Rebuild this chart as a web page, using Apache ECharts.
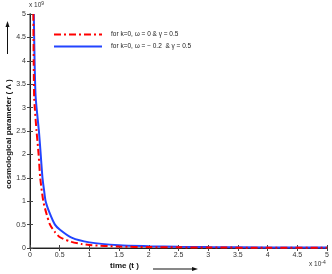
<!DOCTYPE html>
<html>
<head>
<meta charset="utf-8">
<script src="https://cdn.jsdelivr.net/npm/echarts@6/dist/echarts.min.js"></script>
<style>html,body{margin:0;padding:0;background:#fff}#c{width:332px;height:274px}</style>
</head>
<body>
<div id="c"></div>
<script>
var xTicks = [0, 0.5, 1, 1.5, 2, 2.5, 3, 3.5, 4, 4.5, 5];
var yTicks = [0, 0.5, 1, 1.5, 2, 2.5, 3, 3.5, 4, 4.5, 5];
var seriesNames = ['for k=0, \u03c9 = 0 & \u03b3 = 0.5', 'for k=0, \u03c9 = \u2212 0.2  & \u03b3 = 0.5'];
// time (x 10^-4), cosmological parameter (x 10^9)
var redT = [0.056, 0.062, 0.07, 0.08, 0.11, 0.145, 0.172, 0.224, 0.28, 0.337, 0.42, 0.505, 0.7, 0.87, 1.0, 1.5, 2.0, 2.5, 3.0, 4.0, 5.0];
var redV = [5.0, 4.0, 3.2, 3.0, 2.5, 2.0, 1.5, 1.0, 0.72, 0.5, 0.34, 0.23, 0.13, 0.085, 0.064, 0.03, 0.02, 0.014, 0.01, 0.006, 0.004];
var blueT = [0.064, 0.077, 0.092, 0.11, 0.15, 0.18, 0.21, 0.236, 0.263, 0.33, 0.42, 0.505, 0.7, 1.0, 1.5, 2.0, 2.5, 3.0, 4.0, 5.0];
var blueV = [5.0, 4.0, 3.3, 3.0, 2.5, 2.0, 1.5, 1.24, 1.0, 0.75, 0.5, 0.39, 0.22, 0.12, 0.06, 0.04, 0.027, 0.02, 0.013, 0.01];

function pairs(a, b) { return a.map(function (v, i) { return [v, b[i]]; }); }
var font = 'Liberation Sans, Arial, sans-serif';
var chart = echarts.init(document.getElementById('c'), null, { renderer: 'canvas' });
var lab = { fontSize: 7, color: '#333', fontFamily: font };
chart.setOption({
  animation: false,
  grid: { left: 30, right: 5, top: 14, bottom: 26 },
  legend: {
    orient: 'vertical', left: 48, top: 26, itemWidth: 48, itemHeight: 8, itemGap: 5,
    data: seriesNames,
    itemStyle: { opacity: 0 },
    textStyle: { fontSize: 6.5, color: '#222', fontFamily: font, padding: [0, 0, 0, 4] }
  },
  xAxis: [{
    type: 'value', min: 0, max: 5, interval: 0.5,
    axisLine: { show: true, lineStyle: { color: '#777', width: 1.5 } },
    axisTick: { inside: true, length: 3, lineStyle: { color: '#444' } },
    axisLabel: Object.assign({ margin: 4, formatter: function (v) { return xTicks.indexOf(v) >= 0 ? String(v) : ''; } }, lab),
    splitLine: { show: false }
  }, {
    type: 'value', min: 0, max: 5, interval: 0.5, position: 'top',
    axisLine: { show: true, lineStyle: { color: '#222', width: 1 } },
    axisTick: { inside: true, length: 3, lineStyle: { color: '#444' } },
    axisLabel: { show: false }, splitLine: { show: false }
  }],
  yAxis: [{
    type: 'value', min: 0, max: 5, interval: 0.5,
    axisLine: { show: true, lineStyle: { color: '#777', width: 1.5 } },
    axisTick: { inside: true, length: 3, lineStyle: { color: '#444' } },
    axisLabel: Object.assign({ margin: 4, formatter: function (v) { return yTicks.indexOf(v) >= 0 ? String(v) : ''; } }, lab),
    splitLine: { show: false }
  }, {
    type: 'value', min: 0, max: 5, interval: 0.5, position: 'right',
    axisLine: { show: true, lineStyle: { color: '#222', width: 1 } },
    axisTick: { inside: true, length: 3, lineStyle: { color: '#444' } },
    axisLabel: { show: false }, splitLine: { show: false }
  }],
  series: [{
    name: seriesNames[0], type: 'line', symbol: 'none', smooth: 0.25, clip: true,
    data: pairs(redT, redV),
    lineStyle: { color: '#ff0000', width: 2, type: [7, 3, 2, 3] },
    itemStyle: { color: '#ff0000' }, z: 3
  }, {
    name: seriesNames[1], type: 'line', symbol: 'none', smooth: 0.25, clip: true,
    data: pairs(blueT, blueV),
    lineStyle: { color: '#2244ff', width: 2 },
    itemStyle: { color: '#2244ff' }, z: 2
  }],
  graphic: [
    { type: 'text', left: 29, top: 1, style: { text: 'x 10{s|9}', fontSize: 6.5, fill: '#333', fontFamily: font, rich: { s: { fontSize: 5, verticalAlign: 'top', padding: [0, 0, 4, 0] } } } },
    { type: 'text', left: 309, top: 260, style: { text: 'x 10{s|-4}', fontSize: 6.5, fill: '#333', fontFamily: font, rich: { s: { fontSize: 5, padding: [0, 0, 4, 0] } } } },
    { type: 'text', x: 8.5, y: 134, rotation: Math.PI / 2, style: { text: 'cosmological parameter ( \u039b )', fontSize: 8, fontWeight: 'bold', fill: '#111', fontFamily: font, align: 'center', verticalAlign: 'middle' } },
    { type: 'line', shape: { x1: 7.5, y1: 54, x2: 7.5, y2: 26 }, style: { stroke: '#111', lineWidth: 1 } },
    { type: 'polygon', shape: { points: [[7.5, 21], [5.5, 27], [9.5, 27]] }, style: { fill: '#111' } },
    { type: 'text', x: 110, y: 265.5, style: { text: 'time (t )', fontSize: 8, fontWeight: 'bold', fill: '#111', fontFamily: font, verticalAlign: 'middle' } },
    { type: 'line', shape: { x1: 153, y1: 269, x2: 193, y2: 269 }, style: { stroke: '#111', lineWidth: 1 } },
    { type: 'polygon', shape: { points: [[198, 269], [192, 267], [192, 271]] }, style: { fill: '#111' } }
  ]
});
</script>
</body>
</html>
